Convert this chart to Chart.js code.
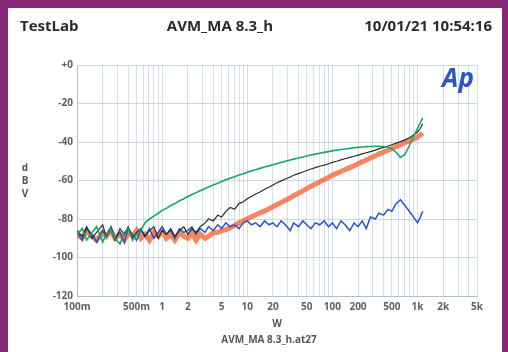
<!DOCTYPE html>
<html>
<head>
<meta charset="utf-8">
<script src="https://cdn.jsdelivr.net/npm/chart.js@4"></script>
<style>
html, body { margin: 0; padding: 0; background: #872a78; }
canvas { display: block; }
</style>
</head>
<body>
<canvas id="myChart" width="508" height="352"></canvas>
<script>
// power axis (W), shared by every trace
var watts = [0.1, 0.115, 0.13, 0.15, 0.17, 0.2, 0.22, 0.25, 0.28, 0.32, 0.36, 0.4, 0.45, 0.5, 0.56,
  0.63, 0.71, 0.8, 0.9, 1.0, 1.12, 1.26, 1.41, 1.6, 1.8, 2.0, 2.24, 2.5, 2.8, 3.2, 3.5, 4.0, 4.5, 5.0,
  5.6, 6.3, 7.1, 8.0, 9.0, 10, 11.2, 12.6, 14.1, 16, 18, 20, 22.4, 25, 28, 32, 35, 40, 45, 50,
  56, 63, 71, 80, 90, 100, 112, 126, 141, 160, 180, 200, 224, 250, 280, 320, 350, 400, 450, 500,
  560, 630, 710, 800, 900, 1000, 1080, 1150];

// dBV readings
var green = [-88, -85, -91, -87, -84, -92, -88, -86, -90, -93, -87, -85, -91, -88, -86,
  -82, -80, -78.5, -77, -75.5, -74.5, -73, -72, -70.5, -69.5, -68.3, -67.3, -66.3, -65.3, -64.2, -63.4, -62.3, -61.4, -60.5,
  -59.6, -58.8, -58, -57.2, -56.5, -55.7, -55, -54.4, -53.7, -53, -52.4, -51.8, -51.2, -50.6, -50, -49.4, -48.9, -48.3, -47.8, -47.3,
  -46.8, -46.3, -45.8, -45.4, -45, -44.6, -44.2, -43.9, -43.6, -43.3, -43, -42.8, -42.6, -42.4, -42.3, -42.2, -42.2, -42.3, -42.7, -43.5,
  -45.3, -48, -46.5, -42, -37, -33, -30, -27.5];

var black = [-86, -89, -84, -90, -87, -83, -89, -86, -91, -85, -88, -84, -90, -87, -85,
  -89, -86, -84, -90, -86, -88, -85, -89, -86, -84, -88, -85, -87, -84, -82, -80, -81, -78, -79,
  -76, -74, -75, -72, -71, -69.5, -68.3, -67, -66, -64.5, -63.5, -62.3, -61.2, -60.2, -59.2, -58.2, -57.3, -56.4, -55.6, -54.8,
  -54, -53.3, -52.6, -52, -51.3, -50.6, -50, -49.3, -48.7, -48, -47.4, -46.8, -46.2, -45.6, -45, -44.2, -43.6, -42.8, -42.1, -41.4,
  -40.6, -39.8, -38.9, -37.8, -36.4, -34.8, -33, -30.5];

var orange = [-88, -90, -86, -89, -91, -87, -89, -86, -90, -88, -91, -87, -89, -86, -90,
  -88, -91, -87, -89, -86, -90, -88, -91, -87, -89, -90, -87, -91, -88, -90, -89, -87, -87, -86,
  -85.5, -84.5, -83.3, -82, -81, -79.8, -78.8, -77.8, -76.8, -75.8, -74.7, -73.6, -72.5, -71.4, -70.2, -69, -67.9, -66.6, -65.4, -64.2,
  -63, -61.9, -60.7, -59.5, -58.4, -57.3, -56.3, -55.3, -54.3, -53.3, -52.3, -51.3, -50.3, -49.3, -48.3, -47.2, -46.3, -45.2, -44.3, -43.4,
  -42.4, -41.4, -40.4, -39.4, -38.4, -37.4, -36.4, -35.4];

var blue = [-87, -91, -85, -88, -92, -86, -89, -84, -90, -87, -92, -85, -88, -91, -86,
  -89, -85, -90, -87, -84, -88, -86, -90, -85, -87, -86, -84, -88, -85, -87, -84, -86, -83, -85,
  -82, -84, -83, -85, -82, -81, -83, -82, -84, -81, -83, -82, -84, -81, -83, -86, -82, -84, -81, -83,
  -85, -82, -83, -81, -84, -82, -85, -81, -83, -86, -82, -84, -81, -85, -79, -80, -77, -78, -75, -76,
  -72, -70, -73, -76, -79, -82, -79, -76];

var xTicks = [0.1, 0.5, 1, 2, 5, 10, 20, 50, 100, 200, 500, 1000, 2000, 5000];
var xTickLabels = ['100m', '500m', '1', '2', '5', '10', '20', '50', '100', '200', '500', '1k', '2k', '5k'];
var yTicks = [0, -20, -40, -60, -80, -100, -120];
var yTickLabels = ['+0', '-20', '-40', '-60', '-80', '-100', '-120'];

function pts(arr) {
  return watts.map(function (w, i) { return { x: w, y: arr[i] }; });
}

// grid lines at 1..9 of every decade
var gridW = [];
for (var d = 0.1; d < 5001; d *= 10) {
  for (var m = 1; m <= 9; m++) {
    var g = +(d * m).toPrecision(3);
    if (g >= 0.1 && g <= 5000) gridW.push(g);
  }
}

var tickFont = { family: 'Open Sans', size: 10, weight: 'bold' };

var frame = {
  id: 'frame',
  beforeDraw: function (chart) {
    var c = chart.ctx;
    c.save();
    c.fillStyle = '#872a78';
    c.fillRect(0, 0, 508, 352);
    c.fillStyle = '#ffffff';
    c.fillRect(8, 8, 494, 344);
    c.restore();
  },
  afterDraw: function (chart) {
    var c = chart.ctx;
    var a = chart.chartArea;
    c.save();
    c.fillStyle = '#2b2b2b';
    c.font = 'bold 15px "Open Sans"';
    c.textBaseline = 'middle';
    c.textAlign = 'left';
    c.fillText('TestLab', 20, 27);
    c.textAlign = 'center';
    c.fillText('AVM_MA 8.3_h', 220, 27);
    c.textAlign = 'right';
    c.fillText('10/01/21 10:54:16', 492, 27);

    c.fillStyle = '#555';
    c.font = 'bold 10px "Open Sans"';
    c.textAlign = 'center';
    c.fillText('d', 25, 168);
    c.fillText('B', 25, 181);
    c.fillText('V', 25, 194);
    var mid = (a.left + a.right) / 2;
    c.fillText('W', mid, 324);
    c.fillText('AVM_MA 8.3_h.at27', mid - 8, 340);

    c.fillStyle = '#2f55c0';
    c.font = 'italic bold 26px "Open Sans"';
    c.fillText('Ap', 458, 80);
    c.restore();
  }
};

var ctx = document.getElementById('myChart').getContext('2d');
var chart = new Chart(ctx, {
  type: 'line',
  data: {
    datasets: [
      { label: 'green', data: pts(green), borderColor: '#16a862', borderWidth: 1.6 },
      { label: 'black', data: pts(black), borderColor: '#2b2b2b', borderWidth: 1.2 },
      { label: 'blue', data: pts(blue), borderColor: '#2456c8', borderWidth: 1.5 },
      { label: 'orange', data: pts(orange), borderColor: 'rgba(242,100,50,0.78)', borderWidth: 5 }
    ]
  },
  options: {
    responsive: false,
    animation: false,
    elements: { point: { radius: 0 }, line: { tension: 0 } },
    layout: { padding: { left: 0, right: 31, top: 65, bottom: 0 } },
    plugins: { legend: { display: false }, tooltip: { enabled: false } },
    scales: {
      x: {
        type: 'logarithmic',
        min: 0.1,
        max: 5000,
        afterBuildTicks: function (s) {
          s.ticks = gridW.map(function (v) { return { value: v }; });
        },
        afterFit: function (s) { s.height = 56; },
        grid: { color: 'rgba(170,185,205,0.45)', drawTicks: false },
        border: { color: 'rgba(160,180,200,0.7)' },
        ticks: {
          autoSkip: false,
          maxRotation: 0,
          padding: 5,
          color: '#606060',
          font: tickFont,
          callback: function (v) {
            for (var i = 0; i < xTicks.length; i++) {
              if (Math.abs(v - xTicks[i]) / xTicks[i] < 1e-6) return xTickLabels[i];
            }
            return '';
          }
        }
      },
      y: {
        min: -120,
        max: 0,
        afterBuildTicks: function (s) {
          s.ticks = yTicks.map(function (v) { return { value: v }; });
        },
        afterFit: function (s) { s.width = 77; },
        grid: { color: 'rgba(150,185,215,0.5)', drawTicks: false },
        border: { color: 'rgba(160,180,200,0.7)' },
        ticks: {
          padding: 4,
          color: '#606060',
          font: tickFont,
          callback: function (v) { return yTickLabels[yTicks.indexOf(v)]; }
        }
      }
    }
  },
  plugins: [frame]
});
</script>
</body>
</html>
